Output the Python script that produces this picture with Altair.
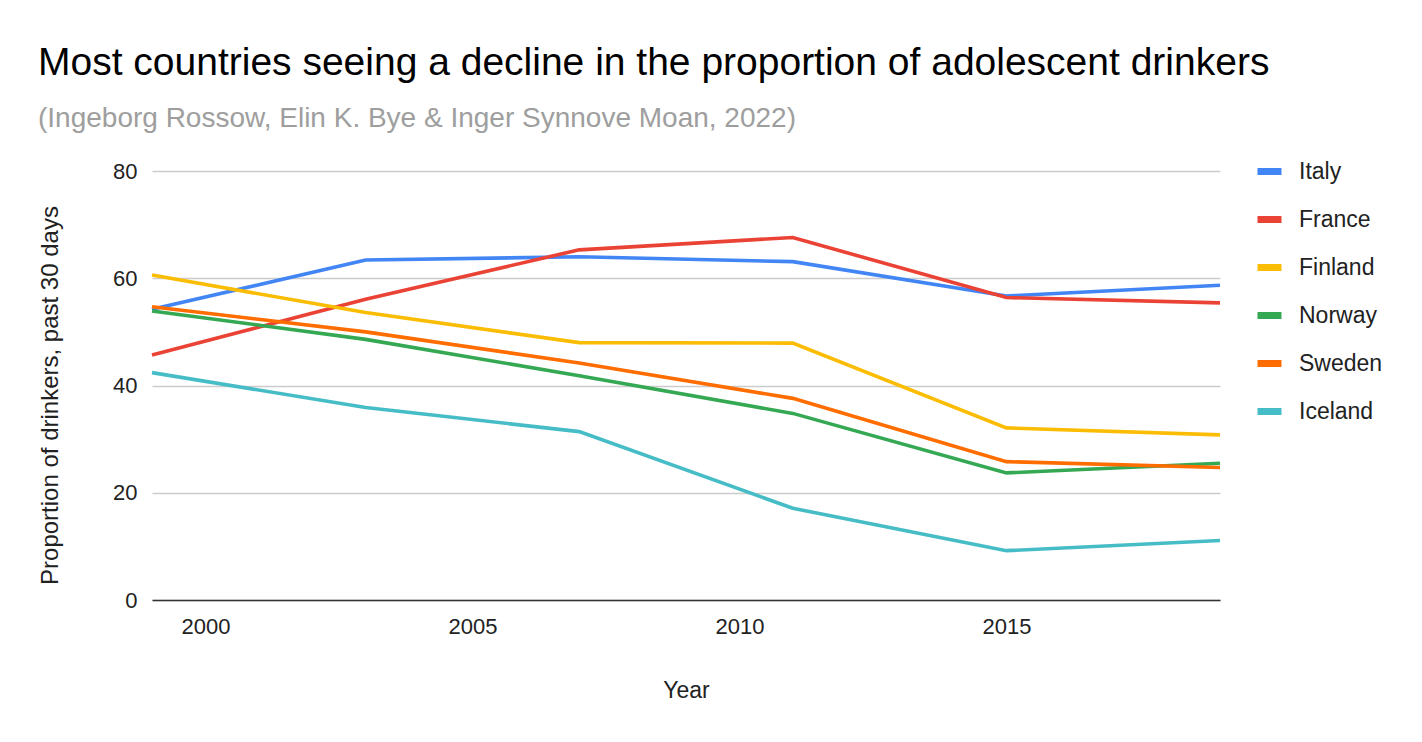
import altair as alt
import pandas as pd

years = [1999, 2003, 2007, 2011, 2015, 2019]
countries = ["Italy", "France", "Finland", "Norway", "Sweden", "Iceland"]
italy = [54.2, 63.4, 64.0, 63.1, 56.7, 58.7]
france = [45.7, 56.1, 65.3, 67.6, 56.4, 55.4]
finland = [60.6, 53.6, 48.0, 47.9, 32.1, 30.8]
norway = [53.9, 48.6, 41.8, 34.8, 23.7, 25.5]
sweden = [54.7, 50.0, 44.2, 37.6, 25.8, 24.7]
iceland = [42.4, 35.9, 31.4, 17.1, 9.2, 11.1]
colors = ["#4285F4", "#EA4335", "#FBBC04", "#34A853", "#FF6D01", "#46BDC6"]

series = [italy, france, finland, norway, sweden, iceland]
rows = []
for c, vals in zip(countries, series):
    for y, v in zip(years, vals):
        rows.append({"Year": y, "Country": c, "Value": v})
df = pd.DataFrame(rows)

FONT = "Liberation Sans"

chart = alt.Chart(df).mark_line(strokeWidth=3.6).encode(
    x=alt.X("Year:Q", scale=alt.Scale(domain=[1999, 2019], nice=False, zero=False),
            axis=alt.Axis(values=[2000, 2005, 2010, 2015], format="d", grid=False,
                          ticks=False, domain=True, domainColor="#333333", domainWidth=1.5,
                          labelFontSize=22, labelColor="#222222", labelPadding=16,
                          title="Year", titleFontSize=23, titleFontWeight="normal",
                          titleColor="#222222", titlePadding=42, zindex=1)),
    y=alt.Y("Value:Q", scale=alt.Scale(domain=[0, 80], nice=False),
            axis=alt.Axis(values=[0, 20, 40, 60, 80], grid=True, gridColor="#cccccc",
                          gridWidth=1.5, ticks=False, domain=False,
                          labelFontSize=22, labelColor="#222222", labelPadding=15,
                          title="Proportion of drinkers, past 30 days", titleFontSize=24,
                          titleFontWeight="normal", titleColor="#222222", titlePadding=50,
                          titleY=224)),
    color=alt.Color("Country:N", scale=alt.Scale(domain=countries, range=colors),
                    sort=countries,
                    legend=alt.Legend(title=None, orient="none", legendX=1102, legendY=-15,
                                      symbolType="stroke", symbolSize=576,
                                      symbolStrokeWidth=7, labelFontSize=23,
                                      labelColor="#222222", labelOffset=14, rowPadding=18,
                                      padding=0)),
).properties(
    width=1068,
    height=429,
    title=alt.TitleParams(
        text="Most countries seeing a decline in the proportion of adolescent drinkers",
        subtitle="(Ingeborg Rossow, Elin K. Bye & Inger Synnove Moan, 2022)",
        anchor="start", frame="group", dx=-114, fontSize=39, fontWeight="normal",
        color="#000000", subtitleFontSize=28, subtitleColor="#9e9e9e",
        subtitlePadding=22, offset=23, font=FONT, subtitleFont=FONT),
    autosize=alt.AutoSizeParams(type="none"),
    padding={"left": 144, "top": 163, "right": 190, "bottom": 125},
).configure(font=FONT).configure_view(stroke=None)

chart.save("out.html", embed_options={"renderer": "svg", "actions": False})
